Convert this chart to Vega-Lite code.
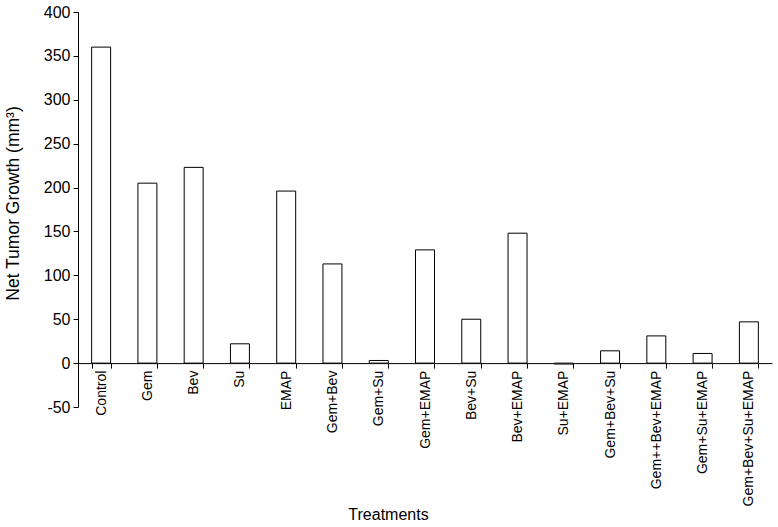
{
  "$schema": "https://vega.github.io/schema/vega-lite/v6.json",
  "autosize": {"type": "none"},
  "padding": {"left": 78, "top": 12, "right": 6, "bottom": 120},
  "width": 694,
  "height": 395,
  "background": "white",
  "config": {
    "view": {"stroke": null},
    "font": "Liberation Sans",
    "axis": {"domainColor": "black", "tickColor": "black", "labelColor": "black", "titleColor": "black", "titleFontWeight": "normal", "grid": false}
  },
  "data": {
    "values": [
      {"treatment": "Control", "growth": 360},
      {"treatment": "Gem", "growth": 205},
      {"treatment": "Bev", "growth": 223},
      {"treatment": "Su", "growth": 22},
      {"treatment": "EMAP", "growth": 196},
      {"treatment": "Gem+Bev", "growth": 113},
      {"treatment": "Gem+Su", "growth": 3},
      {"treatment": "Gem+EMAP", "growth": 129},
      {"treatment": "Bev+Su", "growth": 50},
      {"treatment": "Bev+EMAP", "growth": 148},
      {"treatment": "Su+EMAP", "growth": -1},
      {"treatment": "Gem+Bev+Su", "growth": 14},
      {"treatment": "Gem++Bev+EMAP", "growth": 31},
      {"treatment": "Gem+Su+EMAP", "growth": 11},
      {"treatment": "Gem+Bev+Su+EMAP", "growth": 47}
    ]
  },
  "mark": {"type": "bar", "fill": "white", "stroke": "black", "strokeWidth": 1},
  "encoding": {
    "x": {
      "field": "treatment",
      "type": "nominal",
      "sort": null,
      "scale": {"paddingInner": 0.59, "paddingOuter": 0.295},
      "axis": {
        "title": "Treatments",
        "titleFontSize": 16,
        "titleX": 310,
        "titleY": 151,
        "titleAnchor": null,
        "titleAlign": "center",
        "titleBaseline": "middle",
        "labelAngle": -90,
        "labelFontSize": 14,
        "labelPadding": 2,
        "tickSize": 5,
        "tickBand": "extent",
        "offset": -43.89,
        "labelOverlap": false
      }
    },
    "y": {
      "field": "growth",
      "type": "quantitative",
      "scale": {"domain": [-50, 400], "nice": false, "zero": false},
      "axis": {
        "title": "Net Tumor Growth (mm³)",
        "titleFontSize": 17.5,
        "titleX": -65,
        "titleY": 191,
        "titleAngle": -90,
        "titleAlign": "center",
        "titleBaseline": "middle",
        "values": [-50, 0, 50, 100, 150, 200, 250, 300, 350, 400],
        "labelExpr": "toString(datum.value)",
        "labelFontSize": 16,
        "labelPadding": 3,
        "tickSize": 5
      }
    }
  }
}
